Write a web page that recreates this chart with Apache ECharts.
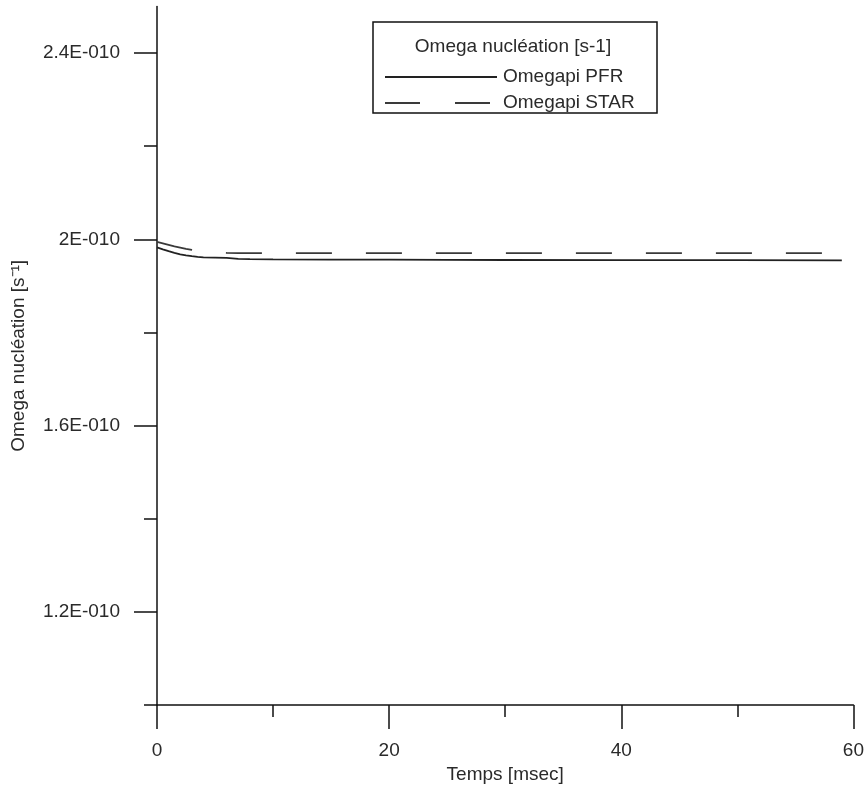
<!DOCTYPE html>
<html>
<head>
<meta charset="utf-8">
<script src="https://cdn.jsdelivr.net/npm/echarts@6/dist/echarts.min.js"></script>
<style>html,body{margin:0;padding:0;background:#fff;}#c{width:867px;height:789px;}</style>
</head>
<body>
<div id="c"></div>
<script>
const timeMs = [0, 0.5, 1, 1.5, 2, 2.5, 3, 3.5, 4, 5, 6, 7, 8, 10, 15, 20, 25, 30, 40, 50, 59];
const omegaPFR = [1.9828e-10, 1.9786e-10, 1.9747e-10, 1.9711e-10, 1.9678e-10, 1.9657e-10, 1.9638e-10, 1.9623e-10, 1.9612e-10, 1.9608e-10, 1.9603e-10, 1.9582e-10, 1.9576e-10, 1.9571e-10, 1.9567e-10, 1.9563e-10, 1.9559e-10, 1.9557e-10, 1.9555e-10, 1.9553e-10, 1.9550e-10];
const omegaSTAR = [1.9946e-10, 1.9914e-10, 1.9882e-10, 1.9850e-10, 1.9822e-10, 1.9794e-10, 1.9773e-10, 1.9753e-10, 1.9738e-10, 1.9721e-10, 1.9711e-10, 1.9706e-10, 1.9706e-10, 1.9706e-10, 1.9706e-10, 1.9706e-10, 1.9706e-10, 1.9706e-10, 1.9706e-10, 1.9706e-10, 1.9706e-10];
const yMajorTicks = [1.2e-10, 1.6e-10, 2.0e-10, 2.4e-10];
const yMinorTicks = [1.0e-10, 1.4e-10, 1.8e-10, 2.2e-10];
const legendTitle = 'Omega nucléation [s-1]';
const seriesNames = ['Omegapi PFR', 'Omegapi STAR'];

const FONT = 'Liberation Sans, Arial, sans-serif';
const FS = 19;
const TXT = '#2a2a2a';
const AX = '#111';

function fmtY(v) {
  const m = Math.round(v * 1e11) / 10;
  return m + 'E-010';
}

const chart = echarts.init(document.getElementById('c'), null, {renderer: 'canvas'});
const option = {
  backgroundColor: '#fff',
  animation: false,
  grid: {left: 157, right: 13, top: 6.5, bottom: 83, containLabel: false},
  xAxis: {
    type: 'value', min: 0, max: 60, interval: 20,
    name: 'Temps [msec]', nameLocation: 'middle', nameGap: 57,
    nameTextStyle: {fontFamily: FONT, fontSize: FS, color: TXT},
    axisLine: {show: true, onZero: false, lineStyle: {color: AX, width: 1.5}},
    axisTick: {show: true, length: 24, inside: false, lineStyle: {color: AX, width: 1.5}},
    minorTick: {show: true, splitNumber: 2, length: 12, lineStyle: {color: AX, width: 1.5}},
    axisLabel: {margin: 36, fontFamily: FONT, fontSize: FS, color: TXT},
    splitLine: {show: false}, minorSplitLine: {show: false}
  },
  yAxis: [{
    type: 'value', min: 1.0e-10, max: 2.5e-10, position: 'left',
    name: 'Omega nucléation [s\u207B\u00B9]', nameLocation: 'middle', nameGap: 129,
    nameTextStyle: {fontFamily: FONT, fontSize: FS, color: TXT},
    axisLine: {show: true, onZero: false, lineStyle: {color: AX, width: 1.5}},
    axisTick: {show: true, length: 23, customValues: yMajorTicks, lineStyle: {color: AX, width: 1.5}},
    axisLabel: {show: true, margin: 37, customValues: yMajorTicks, formatter: fmtY, fontFamily: FONT, fontSize: FS, color: TXT},
    splitLine: {show: false}
  }, {
    type: 'value', min: 1.0e-10, max: 2.5e-10, position: 'left', offset: 0,
    axisLine: {show: false},
    axisTick: {show: true, length: 13, customValues: yMinorTicks, lineStyle: {color: AX, width: 1.5}},
    axisLabel: {show: false},
    splitLine: {show: false}
  }],
  series: [{
    name: seriesNames[0], type: 'line', yAxisIndex: 0,
    data: timeMs.map((t, i) => [t, omegaPFR[i]]),
    showSymbol: false, smooth: false,
    lineStyle: {color: '#222', width: 1.8, type: 'solid'}
  }, {
    name: seriesNames[1], type: 'line', yAxisIndex: 0,
    data: timeMs.map((t, i) => [t, omegaSTAR[i]]),
    showSymbol: false, smooth: false,
    lineStyle: {color: '#3a3a3a', width: 1.8, type: [36, 34]}
  }],
  graphic: [
    {type: 'rect', shape: {x: 373, y: 22, width: 284, height: 91}, style: {fill: '#fff', stroke: '#111', lineWidth: 1.5}, z: 100},
    {type: 'text', x: 513, y: 47, style: {text: legendTitle, fontFamily: FONT, fontSize: FS, fill: TXT, align: 'center', verticalAlign: 'middle'}, z: 101},
    {type: 'line', shape: {x1: 385, y1: 77, x2: 497, y2: 77}, style: {stroke: '#222', lineWidth: 1.8}, z: 101},
    {type: 'text', x: 503, y: 77, style: {text: seriesNames[0], fontFamily: FONT, fontSize: FS, fill: TXT, align: 'left', verticalAlign: 'middle'}, z: 101},
    {type: 'line', shape: {x1: 385, y1: 103, x2: 490, y2: 103}, style: {stroke: '#3a3a3a', lineWidth: 1.8, lineDash: [35, 35]}, z: 101},
    {type: 'text', x: 503, y: 103, style: {text: seriesNames[1], fontFamily: FONT, fontSize: FS, fill: TXT, align: 'left', verticalAlign: 'middle'}, z: 101}
  ]
};
chart.setOption(option);
</script>
</body>
</html>
